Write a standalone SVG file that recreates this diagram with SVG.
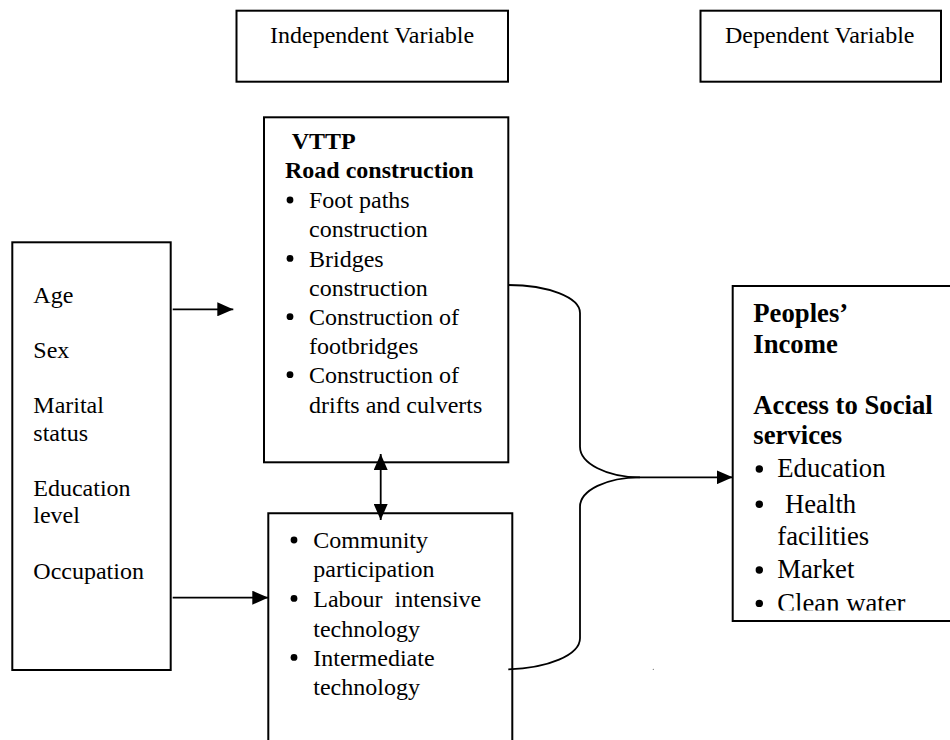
<svg xmlns="http://www.w3.org/2000/svg" width="950" height="740" viewBox="0 0 950 740">
  <style>
    .box { fill: #fff; stroke: #000; stroke-width: 2; }
    .t { font-family: "Liberation Serif", "Times New Roman", serif; font-size: 24px; fill: #000; }
    .b { font-weight: bold; }
    .big { font-size: 26.7px; }
    .link { fill: none; stroke: #000; stroke-width: 1.8; }
    .dot { fill: #000; }
  </style>
  <defs>
    <marker id="arrow" viewBox="0 0 16 14" refX="16" refY="7" markerWidth="16" markerHeight="14" markerUnits="userSpaceOnUse" orient="auto-start-reverse">
      <path d="M0,0 L16,7 L0,14 Z" fill="#000"/>
    </marker>
    <clipPath id="clip-outcome">
      <rect x="734" y="287" width="216" height="323.5"/>
    </clipPath>
  </defs>

  <!-- column headers -->
  <g id="header-independent">
    <rect class="box" x="236.5" y="10.7" width="271.5" height="71"/>
    <text class="t" x="270" y="43.3">Independent Variable</text>
  </g>
  <g id="header-dependent">
    <rect class="box" x="700.5" y="10.7" width="240.5" height="71"/>
    <text class="t" x="725" y="43.3">Dependent Variable</text>
  </g>

  <!-- background characteristics -->
  <g id="demographics">
    <rect class="box" x="12.3" y="242.3" width="158.4" height="427.7"/>
    <text class="t" x="33.3" y="302.7">Age</text>
    <text class="t" x="33.3" y="358.3">Sex</text>
    <text class="t" x="33.3" y="412.7">Marital</text>
    <text class="t" x="33.3" y="440.7">status</text>
    <text class="t" x="33.3" y="495.7">Education</text>
    <text class="t" x="33.3" y="523.3">level</text>
    <text class="t" x="33.3" y="578.7">Occupation</text>
  </g>

  <!-- VTTP road construction -->
  <g id="vttp">
    <rect class="box" x="264" y="117.3" width="244.3" height="345"/>
    <text class="t b" x="291.7" y="149.3">VTTP</text>
    <text class="t b" x="285" y="178.3">Road construction</text>
    <circle class="dot" cx="290" cy="200" r="3.4"/>
    <text class="t" x="309" y="208.3">Foot paths</text>
    <text class="t" x="309" y="236.7">construction</text>
    <circle class="dot" cx="290" cy="258.4" r="3.4"/>
    <text class="t" x="309" y="266.7">Bridges</text>
    <text class="t" x="309" y="295.7">construction</text>
    <circle class="dot" cx="290" cy="316.7" r="3.4"/>
    <text class="t" x="309" y="325">Construction of</text>
    <text class="t" x="309" y="354">footbridges</text>
    <circle class="dot" cx="290" cy="374.7" r="3.4"/>
    <text class="t" x="309" y="383">Construction of</text>
    <text class="t" x="309" y="413">drifts and culverts</text>
  </g>

  <!-- implementation approach -->
  <g id="approach">
    <path class="box" d="M268.3,760 V513.3 H512.3 V760"/>
    <circle class="dot" cx="294" cy="540" r="3.4"/>
    <text class="t" x="313.3" y="548.3">Community</text>
    <text class="t" x="313.3" y="577.3">participation</text>
    <circle class="dot" cx="294" cy="598.4" r="3.4"/>
    <text class="t" x="313.3" y="606.7" xml:space="preserve">Labour  intensive</text>
    <text class="t" x="313.3" y="636.7">technology</text>
    <circle class="dot" cx="294" cy="657.4" r="3.4"/>
    <text class="t" x="313.3" y="665.7">Intermediate</text>
    <text class="t" x="313.3" y="695">technology</text>
  </g>

  <!-- outcomes -->
  <g id="outcomes">
    <rect x="732.7" y="286" width="230" height="335" fill="#fff"/>
    <path class="box" d="M952,286 H732.7 V621 H952" fill="none"/>
    <text class="t b big" x="753.3" y="321.7">Peoples’</text>
    <text class="t b big" x="753.3" y="352.7">Income</text>
    <text class="t b big" x="753.3" y="414.3">Access to Social</text>
    <text class="t b big" x="753.3" y="444">services</text>
    <circle class="dot" cx="759.3" cy="469" r="3.7"/>
    <text class="t big" x="777.3" y="477.3">Education</text>
    <circle class="dot" cx="759.3" cy="504.3" r="3.7"/>
    <text class="t big" x="785" y="512.7">Health</text>
    <text class="t big" x="777.3" y="545">facilities</text>
    <circle class="dot" cx="759.3" cy="570" r="3.7"/>
    <text class="t big" x="777.3" y="578.3">Market</text>
    <g clip-path="url(#clip-outcome)">
      <circle class="dot" cx="759.3" cy="603.4" r="3.7"/>
      <text class="t big" x="777.3" y="611.7">Clean water</text>
    </g>
  </g>

  <!-- connectors -->
  <g id="connectors">
    <line class="link" x1="172.7" y1="309.3" x2="233.3" y2="309.3" marker-end="url(#arrow)"/>
    <line class="link" x1="172.7" y1="597.7" x2="268.3" y2="597.7" marker-end="url(#arrow)"/>
    <line class="link" x1="380.7" y1="454" x2="380.7" y2="520" marker-start="url(#arrow)" marker-end="url(#arrow)"/>
    <path class="link" d="M508.3,285 C548,285 580,297.5 580,313 L580,446.7 C580,463.3 606.7,477.3 640,477.3"/>
    <path class="link" d="M640,477.3 C606.7,477.3 580,490.3 580,506.7 L580,638.3 C580,655 548,668.3 508.3,669.3"/>
    <line class="link" x1="640" y1="477.3" x2="732.7" y2="477.3" marker-end="url(#arrow)"/>
  </g>
  <circle cx="653.3" cy="669.3" r="0.6" fill="#666"/>
</svg>
